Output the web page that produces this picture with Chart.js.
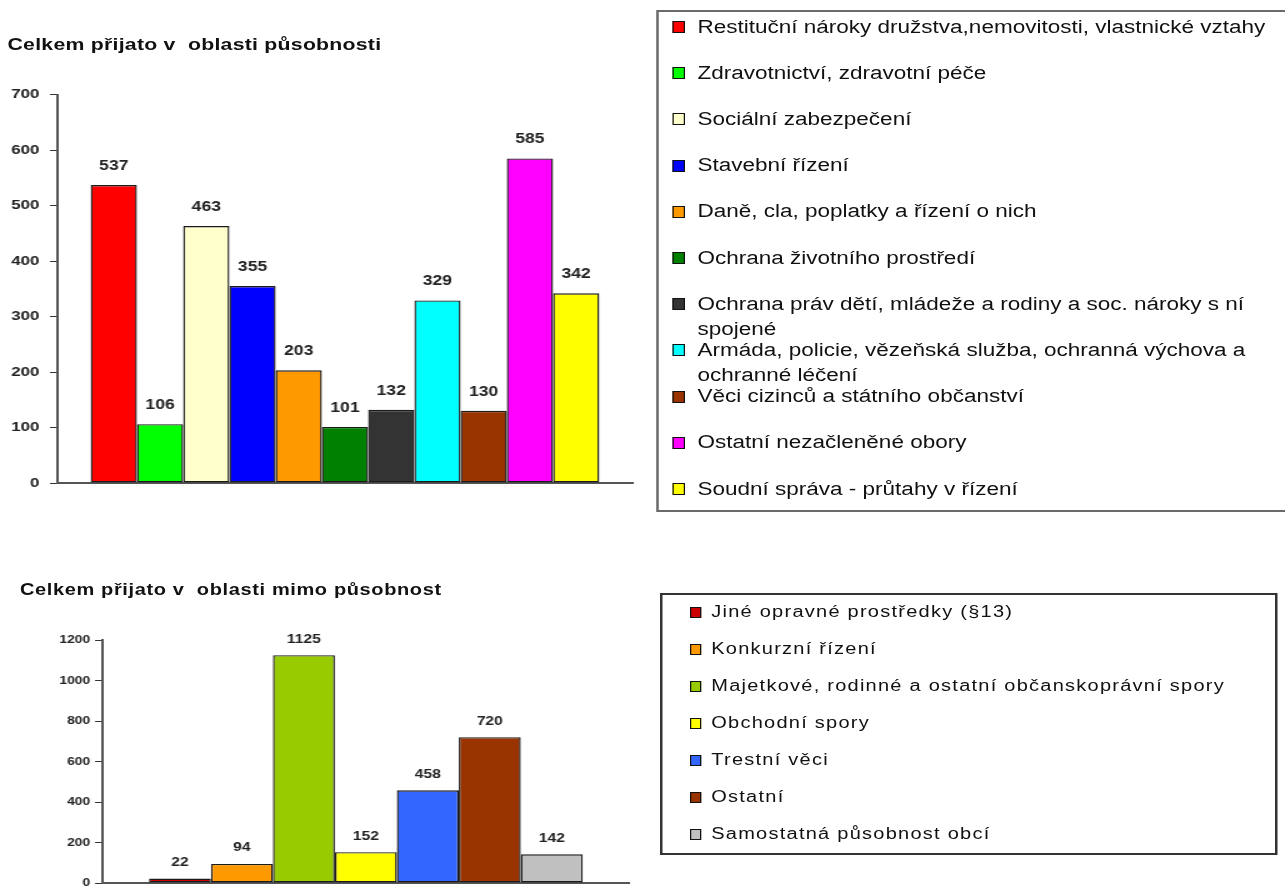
<!DOCTYPE html>
<html><head><meta charset="utf-8">
<script src="https://cdn.jsdelivr.net/npm/chart.js@4"></script>
<style>
html,body{margin:0;padding:0;background:#fff;overflow:hidden;width:1285px;height:887px;}
#stage{position:absolute;left:0;top:0;width:1028px;height:887px;transform:scaleX(1.25);transform-origin:0 0;font-family:"Liberation Sans",Arial,sans-serif;color:#111;}
.title{position:absolute;font-weight:bold;white-space:pre;line-height:20px;color:#111;}
.box{position:absolute;box-sizing:border-box;}
.chartwrap{position:absolute;}
.row{position:absolute;white-space:pre;}
.sw{position:absolute;box-sizing:border-box;}
</style></head><body>
<div id="stage">
  <div class="title" style="left:6px;top:35px;font-size:17px;letter-spacing:0.2px">Celkem přijato v  oblasti působnosti</div>
  <div class="chartwrap" style="left:0;top:78px;width:520px;height:422px"><canvas id="c1"></canvas></div>
  <div class="box" id="lg1" style="left:525px;top:10px;width:540px;height:502px;border:2px solid #6a6a6a"></div>

  <div class="title" style="left:16px;top:580px;font-size:16px;letter-spacing:0.5px">Celkem přijato v  oblasti mimo působnost</div>
  <div class="chartwrap" style="left:0;top:620px;width:520px;height:280px"><canvas id="c2"></canvas></div>
  <div class="box" id="lg2" style="left:528px;top:593px;width:494px;height:262px;border:2px solid #333"></div>
</div>
<script>
// ---- Chart 1 data ----
const categories1 = [
  "Restituční nároky družstva,nemovitosti, vlastnické vztahy",
  "Zdravotnictví, zdravotní péče",
  "Sociální zabezpečení",
  "Stavební řízení",
  "Daně, cla, poplatky a řízení o nich",
  "Ochrana životního prostředí",
  "Ochrana práv dětí, mládeže a rodiny a soc. nároky s ní\nspojené",
  "Armáda, policie, vězeňská služba, ochranná výchova a\nochranné léčení",
  "Věci cizinců a státního občanství",
  "Ostatní nezačleněné obory",
  "Soudní správa - průtahy v řízení"
];
const values1 = [537, 106, 463, 355, 203, 101, 132, 329, 130, 585, 342];
const colors1 = ["#ff0000","#00ff00","#ffffcc","#0000ff","#ff9900","#008000","#333333","#00ffff","#993300","#ff00ff","#ffff00"];
const yTicks1 = [0, 100, 200, 300, 400, 500, 600, 700];

// ---- Chart 2 data ----
const categories2 = [
  "Jiné opravné prostředky (§13)",
  "Konkurzní řízení",
  "Majetkové, rodinné a ostatní občanskoprávní spory",
  "Obchodní spory",
  "Trestní věci",
  "Ostatní",
  "Samostatná působnost obcí"
];
const values2 = [22, 94, 1125, 152, 458, 720, 142];
const colors2 = ["#cc0000","#ff9900","#99cc00","#ffff00","#3366ff","#993300","#c0c0c0"];
const yTicks2 = [0, 200, 400, 600, 800, 1000, 1200];

const valueLabels = {
  id: 'valueLabels',
  afterDatasetsDraw(chart, args, opts) {
    const ctx = chart.ctx;
    ctx.save();
    ctx.font = opts.font;
    ctx.fillStyle = opts.color;
    ctx.textAlign = 'center';
    ctx.textBaseline = 'middle';
    chart.data.datasets.forEach((ds, i) => {
      const meta = chart.getDatasetMeta(i);
      meta.data.forEach((el, j) => {
        ctx.fillText(String(ds.data[j]), el.x, el.y - opts.offset);
      });
    });
    ctx.restore();
  }
};

function makeChart(id, cats, vals, cols, ticks, cfg) {
  return new Chart(document.getElementById(id), {
    type: 'bar',
    data: {
      labels: [''],
      datasets: cats.map((name, i) => ({
        label: name,
        data: [vals[i]],
        backgroundColor: cols[i],
        borderColor: '#1a1a1a',
        borderWidth: 1.4,
        borderSkipped: false
      }))
    },
    options: {
      responsive: true,
      maintainAspectRatio: false,
      animation: false,
      events: [],
      layout: { padding: cfg.padding },
      datasets: { bar: { categoryPercentage: cfg.catPct, barPercentage: 1 } },
      plugins: {
        legend: { display: false },
        tooltip: { enabled: false },
        title: { display: false },
        valueLabels: { font: cfg.labelFont, color: '#222', offset: cfg.labelOffset }
      },
      scales: {
        x: {
          grid: { display: true, drawOnChartArea: false, drawTicks: false },
          ticks: { display: false },
          border: { display: true, color: '#555', width: 2 },
          afterFit: s => { s.height = 0; }
        },
        y: {
          min: ticks[0],
          max: ticks[ticks.length - 1],
          ticks: {
            stepSize: ticks[1] - ticks[0],
            callback: v => String(v),
            font: { family: '"Liberation Sans", Arial, sans-serif', size: cfg.tickSize, weight: 'bold' },
            color: '#222',
            padding: cfg.tickPad
          },
          grid: { display: true, drawOnChartArea: false, drawTicks: true, tickLength: cfg.tickLen, color: '#333', lineWidth: 1 },
          border: { display: true, color: '#555', width: 2 },
          afterFit: s => { s.width = cfg.yWidth; }
        }
      }
    },
    plugins: [valueLabels]
  });
}

makeChart('c1', categories1, values1, colors1, yTicks1, {
  padding: { left: 0, right: 13.6, top: 15, bottom: 17 },
  catPct: 0.883, labelFont: 'bold 14px "Liberation Sans", Arial, sans-serif', labelOffset: 19,
  tickSize: 13.5, tickPad: 8.5, tickLen: 5.6, yWidth: 45.6
});
makeChart('c2', categories2, values2, colors2, yTicks2, {
  padding: { left: 0, right: 17, top: 20, bottom: 17 },
  catPct: 0.825, labelFont: 'bold 12.5px "Liberation Sans", Arial, sans-serif', labelOffset: 16,
  tickSize: 11, tickPad: 4, tickLen: 6.4, yWidth: 82.4
});

function buildLegend(boxId, cats, cols, o) {
  const stage = document.getElementById('stage');
  cats.forEach((name, i) => {
    const cy = o.firstY + i * o.step;
    const sw = document.createElement('div');
    sw.className = 'sw';
    sw.style.cssText = `left:${o.swLeft}px;top:${cy - o.swH / 2}px;width:${o.swW}px;height:${o.swH}px;background:${cols[i]};border:${o.swBorder} solid #111;`;
    stage.appendChild(sw);
    const t = document.createElement('div');
    t.className = 'row';
    t.textContent = name;
    t.style.cssText = `left:${o.textLeft}px;top:${cy - o.lh / 2}px;font-size:${o.fs}px;line-height:${o.lh}px;letter-spacing:${o.ls}px;`;
    stage.appendChild(t);
  });
}
buildLegend('lg1', categories1, colors1, { firstY: 27, step: 46.2, swLeft: 538, swW: 10, swH: 12, swBorder: '1px', textLeft: 558, fs: 18, lh: 25, ls: 0 });
buildLegend('lg2', categories2, colors2, { firstY: 612, step: 37, swLeft: 552, swW: 9, swH: 11, swBorder: '1.5px', textLeft: 569, fs: 16, lh: 20, ls: 1.0 });
</script>
</body></html>
